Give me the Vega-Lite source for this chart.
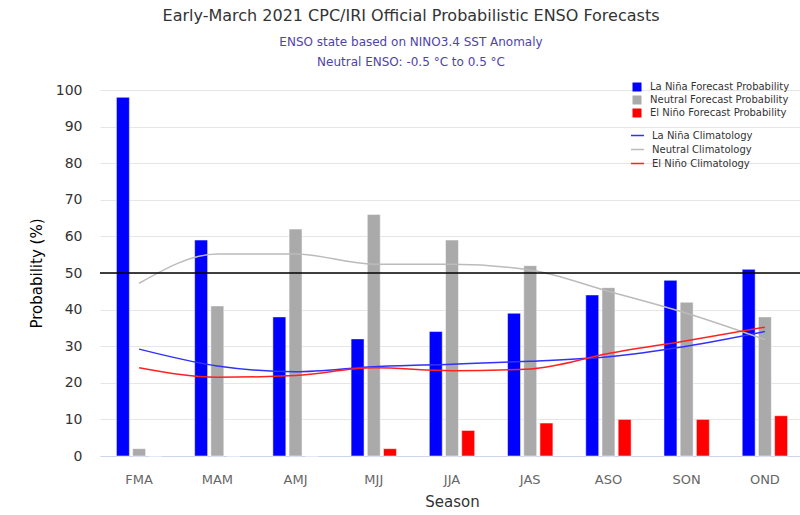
{
  "$schema": "https://vega.github.io/schema/vega-lite/v6.json",
  "width": 704,
  "height": 366,
  "autosize": {"type": "none"},
  "padding": {"left": 100, "top": 90, "right": 0, "bottom": 59},
  "background": "white",
  "config": {
    "font": "DejaVu Sans",
    "view": {"stroke": null},
    "axisY": {"domain": false, "ticks": false, "grid": true, "gridColor": "#e6e6e6", "labelFontSize": 14, "labelColor": "#333333", "labelPadding": 18, "titleFontSize": 15, "titleFontWeight": "normal", "titleColor": "#000000", "titlePadding": 11, "labelOverlap": false},
    "axisX": {"domain": true, "domainColor": "#ccd6eb", "ticks": false, "grid": false, "labelAngle": 0, "labelFontSize": 13, "labelColor": "#666666", "labelPadding": 17, "titleFontSize": 15, "titleFontWeight": "normal", "titleColor": "#333333", "titlePadding": 8}
  },
  "title": {
    "text": "Early-March 2021 CPC/IRI Official Probabilistic ENSO Forecasts",
    "subtitle": ["ENSO state based on NINO3.4 SST Anomaly", "Neutral ENSO: -0.5 °C to 0.5 °C"],
    "anchor": "middle",
    "frame": "group",
    "dx": -41,
    "fontSize": 16,
    "fontWeight": "normal",
    "color": "#333333",
    "subtitleColor": "#4e44a8",
    "subtitleFontSize": 12,
    "subtitleLineHeight": 20,
    "subtitlePadding": 13,
    "offset": 14
  },
  "datasets": {
    "bars": [
      {"season": "FMA", "type": "La Niña Forecast Probability", "value": 98},
      {"season": "FMA", "type": "Neutral Forecast Probability", "value": 2},
      {"season": "FMA", "type": "El Niño Forecast Probability", "value": 0},
      {"season": "MAM", "type": "La Niña Forecast Probability", "value": 59},
      {"season": "MAM", "type": "Neutral Forecast Probability", "value": 41},
      {"season": "MAM", "type": "El Niño Forecast Probability", "value": 0},
      {"season": "AMJ", "type": "La Niña Forecast Probability", "value": 38},
      {"season": "AMJ", "type": "Neutral Forecast Probability", "value": 62},
      {"season": "AMJ", "type": "El Niño Forecast Probability", "value": 0},
      {"season": "MJJ", "type": "La Niña Forecast Probability", "value": 32},
      {"season": "MJJ", "type": "Neutral Forecast Probability", "value": 66},
      {"season": "MJJ", "type": "El Niño Forecast Probability", "value": 2},
      {"season": "JJA", "type": "La Niña Forecast Probability", "value": 34},
      {"season": "JJA", "type": "Neutral Forecast Probability", "value": 59},
      {"season": "JJA", "type": "El Niño Forecast Probability", "value": 7},
      {"season": "JAS", "type": "La Niña Forecast Probability", "value": 39},
      {"season": "JAS", "type": "Neutral Forecast Probability", "value": 52},
      {"season": "JAS", "type": "El Niño Forecast Probability", "value": 9},
      {"season": "ASO", "type": "La Niña Forecast Probability", "value": 44},
      {"season": "ASO", "type": "Neutral Forecast Probability", "value": 46},
      {"season": "ASO", "type": "El Niño Forecast Probability", "value": 10},
      {"season": "SON", "type": "La Niña Forecast Probability", "value": 48},
      {"season": "SON", "type": "Neutral Forecast Probability", "value": 42},
      {"season": "SON", "type": "El Niño Forecast Probability", "value": 10},
      {"season": "OND", "type": "La Niña Forecast Probability", "value": 51},
      {"season": "OND", "type": "Neutral Forecast Probability", "value": 38},
      {"season": "OND", "type": "El Niño Forecast Probability", "value": 11}
    ],
    "clim": [
      {"season": "FMA", "type": "La Niña Climatology", "value": 29.2},
      {"season": "MAM", "type": "La Niña Climatology", "value": 24.6},
      {"season": "AMJ", "type": "La Niña Climatology", "value": 23.0},
      {"season": "MJJ", "type": "La Niña Climatology", "value": 24.4},
      {"season": "JJA", "type": "La Niña Climatology", "value": 25.1},
      {"season": "JAS", "type": "La Niña Climatology", "value": 25.9},
      {"season": "ASO", "type": "La Niña Climatology", "value": 27.1},
      {"season": "SON", "type": "La Niña Climatology", "value": 30.0},
      {"season": "OND", "type": "La Niña Climatology", "value": 34.0},
      {"season": "FMA", "type": "Neutral Climatology", "value": 47.2},
      {"season": "MAM", "type": "Neutral Climatology", "value": 55.2},
      {"season": "AMJ", "type": "Neutral Climatology", "value": 55.2},
      {"season": "MJJ", "type": "Neutral Climatology", "value": 52.4},
      {"season": "JJA", "type": "Neutral Climatology", "value": 52.4},
      {"season": "JAS", "type": "Neutral Climatology", "value": 50.8},
      {"season": "ASO", "type": "Neutral Climatology", "value": 45.0},
      {"season": "SON", "type": "Neutral Climatology", "value": 39.0},
      {"season": "OND", "type": "Neutral Climatology", "value": 31.8},
      {"season": "FMA", "type": "El Niño Climatology", "value": 24.1},
      {"season": "MAM", "type": "El Niño Climatology", "value": 21.5},
      {"season": "AMJ", "type": "El Niño Climatology", "value": 22.0},
      {"season": "MJJ", "type": "El Niño Climatology", "value": 24.1},
      {"season": "JJA", "type": "El Niño Climatology", "value": 23.3},
      {"season": "JAS", "type": "El Niño Climatology", "value": 23.8},
      {"season": "ASO", "type": "El Niño Climatology", "value": 28.0},
      {"season": "SON", "type": "El Niño Climatology", "value": 31.5},
      {"season": "OND", "type": "El Niño Climatology", "value": 35.2}
    ],
    "threshold": [{"level": 50}]
  },
  "layer": [
    {
      "data": {"name": "bars"},
      "mark": {"type": "bar", "stroke": "#ffffff", "strokeOpacity": 0.5, "strokeWidth": 1},
      "encoding": {
        "x": {"field": "season", "type": "nominal", "sort": ["FMA", "MAM", "AMJ", "MJJ", "JJA", "JAS", "ASO", "SON", "OND"], "title": "Season", "scale": {"paddingInner": 0.42, "paddingOuter": 0.21}},
        "xOffset": {"field": "type", "type": "nominal", "sort": ["La Niña Forecast Probability", "Neutral Forecast Probability", "El Niño Forecast Probability"], "scale": {"paddingInner": 0.2}},
        "y": {"field": "value", "type": "quantitative", "title": "Probability (%)", "scale": {"domain": [0, 100], "nice": false}, "axis": {"values": [0, 10, 20, 30, 40, 50, 60, 70, 80, 90, 100], "tickCount": 11}},
        "color": {
          "field": "type", "type": "nominal",
          "scale": {"domain": ["La Niña Forecast Probability", "Neutral Forecast Probability", "El Niño Forecast Probability"], "range": ["#0000ff", "#aaaaaa", "#ff0000"]},
          "legend": {"orient": "none", "legendX": 532, "legendY": -8, "title": null, "symbolType": "square", "symbolSize": 81, "symbolStrokeWidth": 0, "labelFontSize": 10, "labelColor": "#333333", "rowPadding": 3, "padding": 0, "labelOffset": 8}
        }
      }
    },
    {
      "data": {"name": "clim"},
      "mark": {"type": "line", "interpolate": "monotone", "strokeWidth": 1.5},
      "encoding": {
        "x": {"field": "season", "type": "nominal", "sort": ["FMA", "MAM", "AMJ", "MJJ", "JJA", "JAS", "ASO", "SON", "OND"], "title": "Season"},
        "y": {"field": "value", "type": "quantitative", "title": "Probability (%)", "axis": {"values": [0, 10, 20, 30, 40, 50, 60, 70, 80, 90, 100], "tickCount": 11}},
        "stroke": {
          "field": "type", "type": "nominal",
          "scale": {"domain": ["La Niña Climatology", "Neutral Climatology", "El Niño Climatology"], "range": ["#3030ff", "#bbbbbb", "#ff2020"]},
          "legend": {"orient": "none", "legendX": 530, "legendY": 38, "title": null, "symbolType": "stroke", "symbolSize": 169, "symbolStrokeWidth": 1.5, "labelFontSize": 10, "labelColor": "#333333", "rowPadding": 1, "padding": 0, "labelOffset": 7}
        }
      }
    },
    {
      "data": {"name": "threshold"},
      "mark": {"type": "rule", "color": "#000000", "strokeWidth": 1.5},
      "encoding": {
        "y": {"field": "level", "type": "quantitative", "title": "Probability (%)", "axis": {"values": [0, 10, 20, 30, 40, 50, 60, 70, 80, 90, 100], "tickCount": 11}}
      }
    }
  ]
}
